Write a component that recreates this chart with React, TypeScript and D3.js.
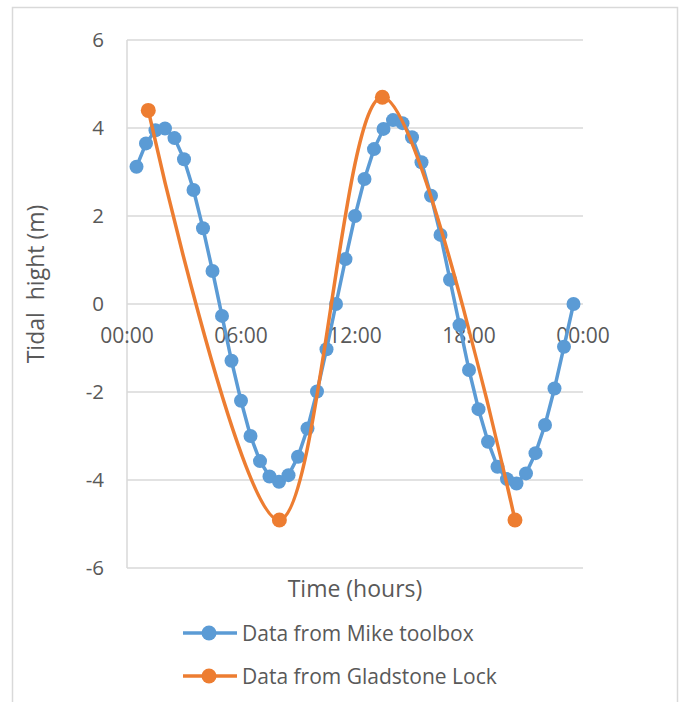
import React from 'react';
import * as d3 from 'd3';

// tidal heights, hours since midnight
const mikeHours = [
	0.5, 1, 1.5, 2, 2.5, 3, 3.5, 4, 4.5, 5, 5.5, 6, 6.5, 7, 7.5, 8, 8.5, 9, 9.5, 10,
	10.5, 11, 11.5, 12, 12.5, 13, 13.5, 14, 14.5, 15, 15.5, 16, 16.5, 17, 17.5, 18,
	18.5, 19, 19.5, 20, 20.5, 21, 21.5, 22, 22.5, 23, 23.5,
];
const mikeHeights = [
	3.12, 3.65, 3.95, 3.99, 3.77, 3.29, 2.59, 1.72, 0.75, -0.27, -1.29, -2.2, -3.0,
	-3.57, -3.92, -4.04, -3.89, -3.47, -2.83, -1.99, -1.03, 0.0, 1.02, 2.0, 2.84,
	3.52, 3.98, 4.18, 4.11, 3.79, 3.22, 2.46, 1.57, 0.55, -0.48, -1.5, -2.39, -3.13,
	-3.7, -3.98, -4.08, -3.85, -3.39, -2.75, -1.92, -0.97, 0.0,
];
const lockHours = [1.12, 8.02, 13.44, 20.42];
const lockHeights = [4.4, -4.91, 4.7, -4.91];

const xTicks = [0, 6, 12, 18, 24];
const xTickLabels = ['00:00', '06:00', '12:00', '18:00', '00:00'];
const yTicks = [-6, -4, -2, 0, 2, 4, 6];
const seriesNames = ['Data from Mike toolbox', 'Data from Gladstone Lock'];
const seriesColors = ['#5B9BD5', '#ED7D31'];

const width = 681;
const height = 702;
const font = "'Open Sans', sans-serif";
const textColor = '#595959';
const gridColor = '#D9D9D9';

export default function App() {
	const x = d3.scaleLinear().domain([0, 24]).range([127, 583]);
	const y = d3.scaleLinear().domain([-6, 6]).range([568, 40]);

	const mike = mikeHours.map((h, i) => [h, mikeHeights[i]] as [number, number]);
	const lock = lockHours.map((h, i) => [h, lockHeights[i]] as [number, number]);

	const straight = d3
		.line<[number, number]>()
		.x((d) => x(d[0]))
		.y((d) => y(d[1]));
	const smooth = d3
		.line<[number, number]>()
		.x((d) => x(d[0]))
		.y((d) => y(d[1]))
		.curve(d3.curveCardinal.tension(0));

	return (
		<svg
			width={width}
			height={height}
			style={{ position: 'absolute', left: 0, top: 0, background: '#fff' }}
			fontFamily={font}
		>
			<rect x={12.5} y={7.5} width={665} height={710} fill="none" stroke={gridColor} strokeWidth={1.5} />

			{/* gridlines */}
			{yTicks.map((t) => (
				<line key={t} x1={x(0)} x2={x(24)} y1={y(t)} y2={y(t)} stroke={gridColor} strokeWidth={1.5} />
			))}
			<line x1={x(0)} x2={x(0)} y1={y(6)} y2={y(-6)} stroke={gridColor} strokeWidth={1.5} />

			{/* y tick labels */}
			{yTicks.map((t) => (
				<text key={t} x={104} y={y(t)} dy="0.36em" textAnchor="end" fontSize={20.5} fill={textColor}>
					{t}
				</text>
			))}

			{/* x tick labels, hanging below the zero line */}
			{xTicks.map((t, i) => (
				<text key={i} x={x(t)} y={343} textAnchor="middle" fontSize={21} fill={textColor}>
					{xTickLabels[i]}
				</text>
			))}

			{/* axis titles */}
			<text x={x(12)} y={597} textAnchor="middle" fontSize={23} fill={textColor}>
				Time (hours)
			</text>
			<text
				transform={`translate(44,${284}) rotate(-90)`}
				textAnchor="middle"
				fontSize={23}
				fill={textColor}
				style={{ whiteSpace: 'pre' }}
			>
				{'Tidal  hight (m)'}
			</text>

			{/* Mike toolbox series */}
			<path d={straight(mike) ?? ''} fill="none" stroke={seriesColors[0]} strokeWidth={3.5} strokeLinejoin="round" />
			{mike.map((d, i) => (
				<circle key={i} cx={x(d[0])} cy={y(d[1])} r={7} fill={seriesColors[0]} />
			))}

			{/* Gladstone Lock series */}
			<path d={smooth(lock) ?? ''} fill="none" stroke={seriesColors[1]} strokeWidth={3.5} />
			{lock.map((d, i) => (
				<circle key={i} cx={x(d[0])} cy={y(d[1])} r={7.5} fill={seriesColors[1]} />
			))}

			{/* legend */}
			{seriesNames.map((name, i) => {
				const ly = 633 + i * 43;
				return (
					<g key={name}>
						<line x1={183} x2={237} y1={ly} y2={ly} stroke={seriesColors[i]} strokeWidth={3.5} />
						<circle cx={209} cy={ly} r={7.5} fill={seriesColors[i]} />
						<text x={242} y={ly} dy="0.36em" fontSize={21} fill={textColor}>
							{name}
						</text>
					</g>
				);
			})}
		</svg>
	);
}
